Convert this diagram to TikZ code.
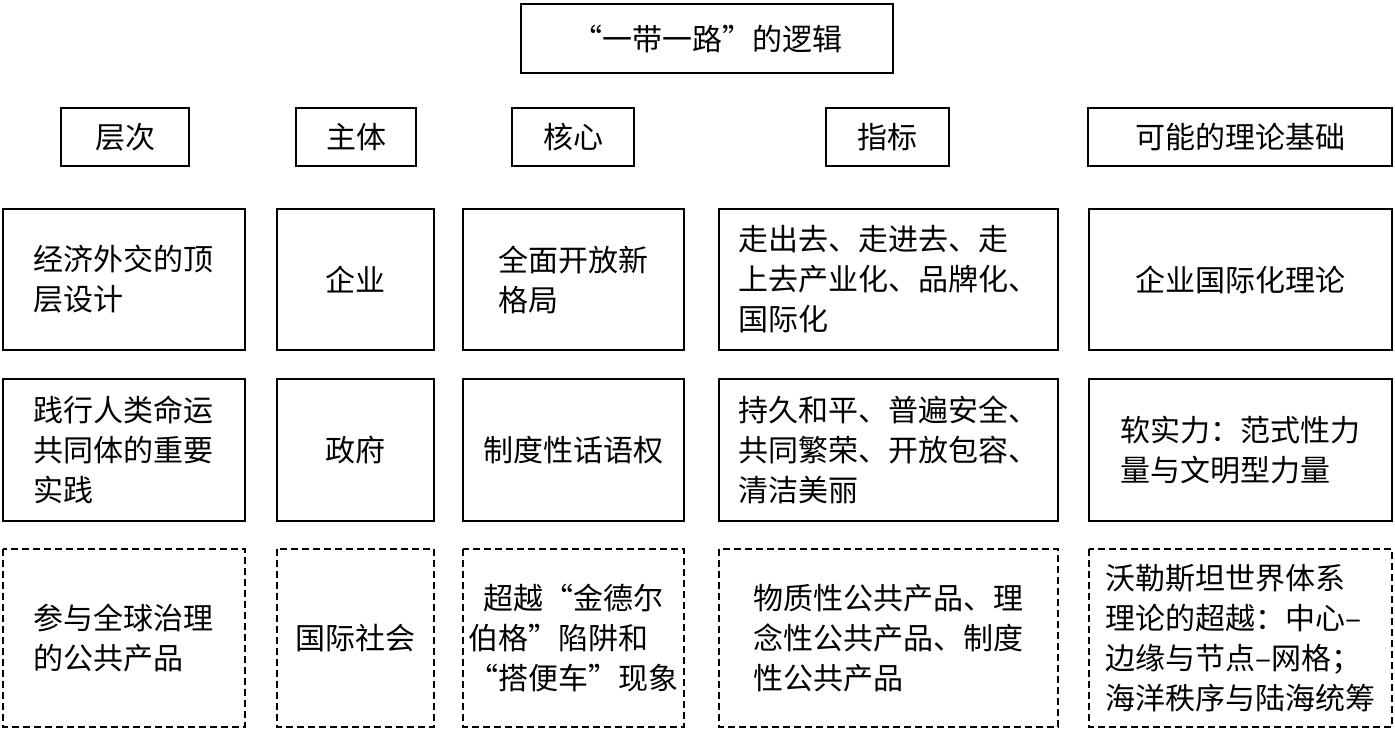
\documentclass[tikz,border=0pt]{standalone}
\usepackage{fontspec}
\setmainfont{Noto Sans CJK SC}
\begin{document}
\begin{tikzpicture}[x=1pt,y=-1pt,
  bx/.style={draw,line width=2.5pt},
  dbx/.style={draw,line width=2.5pt,dash pattern=on 7pt off 4pt},
  txt/.style={align=left,font=\fontsize{30}{40}\selectfont,inner sep=0pt}]
\useasboundingbox (0,0) rectangle (1395,731);
\def\bxx#1#2#3#4#5#6#7{%
  \draw[#6] (#2,#3) rectangle (#4,#5);
  \node[txt] (#1) at ({(#2+#4)/2},{(#3+#5)/2}) {#7};}
\bxx{t}{521}{4}{893}{73}{bx}{“一带一路”的逻辑}
\bxx{h1}{61}{108}{189}{166}{bx}{层次}
\bxx{h2}{296}{108}{416}{166}{bx}{主体}
\bxx{h3}{512}{108}{634}{166}{bx}{核心}
\bxx{h4}{826}{108}{949}{166}{bx}{指标}
\bxx{h5}{1088}{108}{1392}{166}{bx}{可能的理论基础}
% row 1
\bxx{a1}{3}{209}{245}{350}{bx}{经济外交的顶\\层设计}
\bxx{a2}{277}{209}{434}{350}{bx}{企业}
\bxx{a3}{463}{209}{684}{350}{bx}{全面开放新\\格局}
\bxx{a4}{719}{209}{1058}{350}{bx}{走出去、走进去、走\\上去产业化、品牌化、\\国际化}
\bxx{a5}{1089}{209}{1392}{350}{bx}{企业国际化理论}
% row 2
\bxx{b1}{3}{379}{245}{521}{bx}{践行人类命运\\共同体的重要\\实践}
\bxx{b2}{277}{379}{434}{521}{bx}{政府}
\bxx{b3}{463}{379}{684}{521}{bx}{制度性话语权}
\bxx{b4}{719}{379}{1058}{521}{bx}{持久和平、普遍安全、\\共同繁荣、开放包容、\\清洁美丽}
\bxx{b5}{1089}{379}{1392}{521}{bx}{软实力：范式性力\\量与文明型力量}
% row 3
\bxx{c1}{3}{549}{245}{727}{dbx}{参与全球治理\\的公共产品}
\bxx{c2}{277}{549}{434}{727}{dbx}{国际社会}
\bxx{c3}{463}{549}{684}{727}{dbx}{\hspace*{0.5em}超越“金德尔\\伯格”陷阱和\\“搭便车”现象}
\bxx{c4}{719}{549}{1058}{727}{dbx}{物质性公共产品、理\\念性公共产品、制度\\性公共产品}
\bxx{c5}{1089}{549}{1392}{727}{dbx}{沃勒斯坦世界体系\\理论的超越：中心–\\边缘与节点–网格；\\海洋秩序与陆海统筹}
\end{tikzpicture}
\end{document}
